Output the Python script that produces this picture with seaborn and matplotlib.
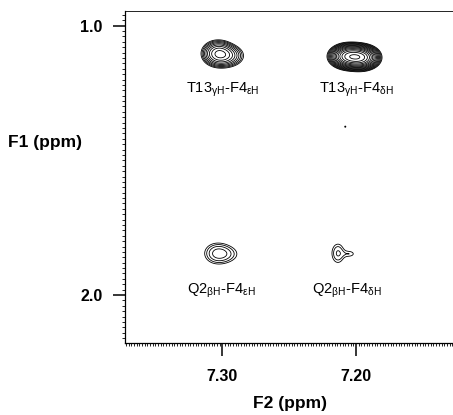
import numpy as np
import seaborn as sns
import matplotlib
matplotlib.use("Agg")
import matplotlib.pyplot as plt
from matplotlib.ticker import FixedLocator, MultipleLocator

# peak components (F2 ppm, F1 ppm, height, width F2, width F1)
peak_f2 = [7.3035, 7.2960, 7.2055, 7.1960, 7.3045, 7.2960, 7.2135, 7.2040, 7.2080]
peak_f1 = [1.1030, 1.1120, 1.1140, 1.1180, 1.8450, 1.8480, 1.8450, 1.8470, 1.3750]
peak_amp = [7.0, 4.0, 30.0, 28.0, 1.9, 1.2, 1.75, 1.12, 1.08]
peak_w2 = [0.0062, 0.0070, 0.0062, 0.0060, 0.0070, 0.0080, 0.0042, 0.0035, 0.0012]
peak_w1 = [0.0250, 0.0230, 0.0200, 0.0200, 0.0290, 0.0250, 0.0320, 0.0110, 0.0060]

# cross-peak labels
label_text = [
    r"T13$_{\mathregular{γH}}$-F4$_{\mathregular{εH}}$",
    r"T13$_{\mathregular{γH}}$-F4$_{\mathregular{δH}}$",
    r"Q2$_{\mathregular{βH}}$-F4$_{\mathregular{εH}}$",
    r"Q2$_{\mathregular{βH}}$-F4$_{\mathregular{δH}}$",
]
label_f2 = [7.2995, 7.2000, 7.3010, 7.2065]
label_f1 = [1.238, 1.238, 1.985, 1.985]

contour_levels = 1.3 ** np.arange(0, 16)

sns.set_style("ticks")
plt.rcParams["font.family"] = ["Liberation Sans", "DejaVu Sans"]
plt.rcParams["mathtext.fontset"] = "custom"
plt.rcParams["mathtext.rm"] = "Liberation Sans"
for k in ["text.color", "axes.labelcolor", "xtick.color", "ytick.color", "axes.edgecolor"]:
    plt.rcParams[k] = "black"

f2 = np.linspace(7.1274, 7.3728, 700)
f1 = np.linspace(0.9456, 2.178, 900)
X, Y = np.meshgrid(f2, f1)
Z = np.zeros_like(X)
for x0, y0, a, sx, sy in zip(peak_f2, peak_f1, peak_amp, peak_w2, peak_w1):
    Z += a * np.exp(-((X - x0) ** 2) / (2 * sx ** 2) - ((Y - y0) ** 2) / (2 * sy ** 2))

fig = plt.figure(figsize=(4.53, 4.15), dpi=100)
ax = fig.add_axes([125 / 453, 72 / 415, 328 / 453, 332 / 415])
ax.contour(X, Y, Z, levels=contour_levels, colors="black", linewidths=0.6)

for t, x, y in zip(label_text, label_f2, label_f1):
    ax.text(x, y, t, ha="center", va="center", fontsize=10.5)

ax.set_xlim(7.3728, 7.1274)
ax.set_ylim(2.178, 0.9456)

ax.xaxis.set_major_locator(FixedLocator([7.30, 7.20]))
ax.xaxis.set_minor_locator(MultipleLocator(0.002))
ax.yaxis.set_major_locator(FixedLocator([1.0, 2.0]))
ax.yaxis.set_minor_locator(MultipleLocator(0.02))
ax.set_xticklabels(["7.30", "7.20"], fontweight="bold", fontsize=11.5)
ax.set_yticklabels(["1.0", "2.0"], fontweight="bold", fontsize=11.5)
ax.tick_params(which="major", direction="out", length=9, width=1.1)
ax.tick_params(axis="x", which="major", pad=10)
ax.tick_params(axis="y", which="major", pad=7)
ax.tick_params(which="minor", direction="out", length=2.5, width=0.6)

ax.spines["right"].set_visible(False)
for s in ["left", "bottom"]:
    ax.spines[s].set_linewidth(0.9)
ax.spines["top"].set_linewidth(0.6)

ax.set_xlabel("F2 (ppm)", fontweight="bold", fontsize=12.5)
ax.set_ylabel("F1 (ppm)", fontweight="bold", fontsize=12.5, rotation=0, va="center")
ax.xaxis.set_label_coords(0.503, -0.160)
ax.yaxis.set_label_coords(-0.243, 0.605)

fig.savefig("out.png", dpi=100)
